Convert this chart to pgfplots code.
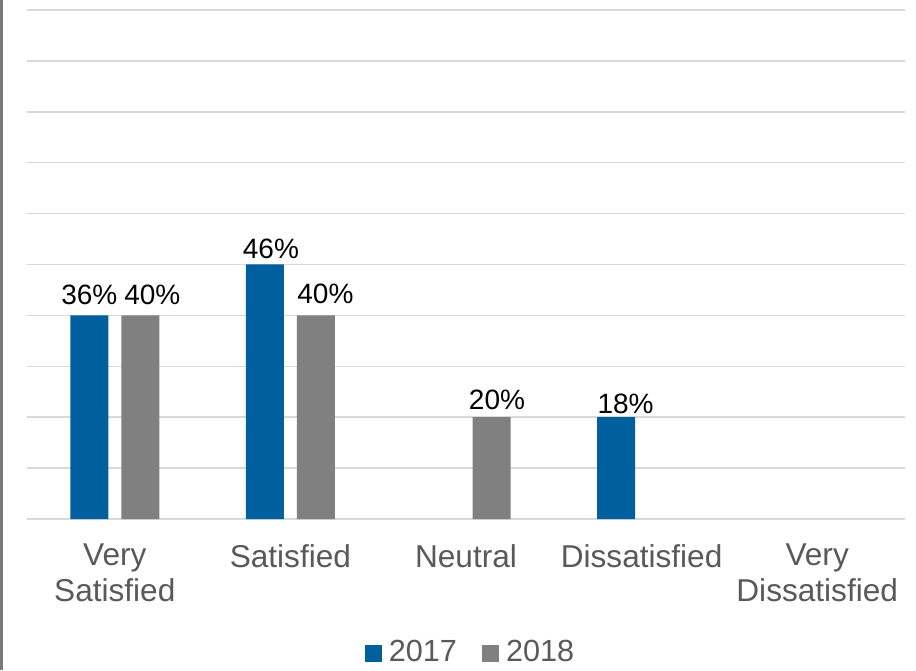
\documentclass[border=0pt]{standalone}
\usepackage{pgfplots}
\pgfplotsset{compat=1.18}
\usepackage{fontspec}
\setmainfont{Liberation Sans}
\definecolor{cblue}{HTML}{00609E}
\definecolor{cgray}{HTML}{808080}
\definecolor{gridc}{HTML}{D9D9D9}
\definecolor{tickc}{HTML}{595959}
\begin{document}
\begin{tikzpicture}
\useasboundingbox (0,0) rectangle (916pt,670pt);
\fill[cgray!95!black] (0,0) rectangle (3pt,670pt);
\begin{axis}[
  at={(27pt,151pt)}, anchor=south west,
  scale only axis, width=878pt, height=509pt,
  xmin=-0.5, xmax=4.5, ymin=0, ymax=10,
  ybar=13pt, bar width=38pt,
  axis line style={draw=none},
  major tick length=0pt,
  ytick={0,1,...,10}, yticklabels={},
  ymajorgrids, grid style={gridc, line width=1.6pt},
  xtick={0,1,2,3,4},
  xticklabels={{Very\\Satisfied},{Satisfied},{Neutral},{Dissatisfied},{Very\\Dissatisfied}},
  xticklabel style={align=center, text=tickc, inner sep=0pt, yshift=-25pt,
    font=\fontsize{31.6}{36}\selectfont},
  nodes near coords,
  point meta=explicit symbolic,
  nodes near coords style={anchor=south, inner sep=0pt, yshift=0pt, text=black,
    font=\fontsize{28}{32}\selectfont},
  legend columns=2,
  legend style={draw=none, fill=none, at={(0.504,-0.2607)}, anchor=center,
    inner sep=0pt, nodes={inner sep=0pt}, column sep=7pt,
    /tikz/every even column/.append style={column sep=25pt},
    font=\fontsize{30.6}{34}\selectfont, text=tickc},
  legend cell align=left,
  legend image code/.code={\fill[#1] (0pt,-10pt) rectangle (17pt,7pt);},
]
\addplot[fill=cblue, draw=none] coordinates {
  (0,4) [\raisebox{11pt}{36\%}\hspace{6pt}]
  (1,5) [\hspace{12pt}\raisebox{6pt}{46\%}]
  (3,2) [\hspace{19pt}\raisebox{4pt}{18\%}]};
\addplot[fill=cgray, draw=none] coordinates {
  (0,4) [\hspace{24pt}\raisebox{11pt}{40\%}]
  (1,4) [\hspace{19pt}\raisebox{12pt}{40\%}]
  (2,2) [\hspace{11pt}\raisebox{8pt}{20\%}]};
\legend{2017,2018}
\end{axis}
\end{tikzpicture}
\end{document}
